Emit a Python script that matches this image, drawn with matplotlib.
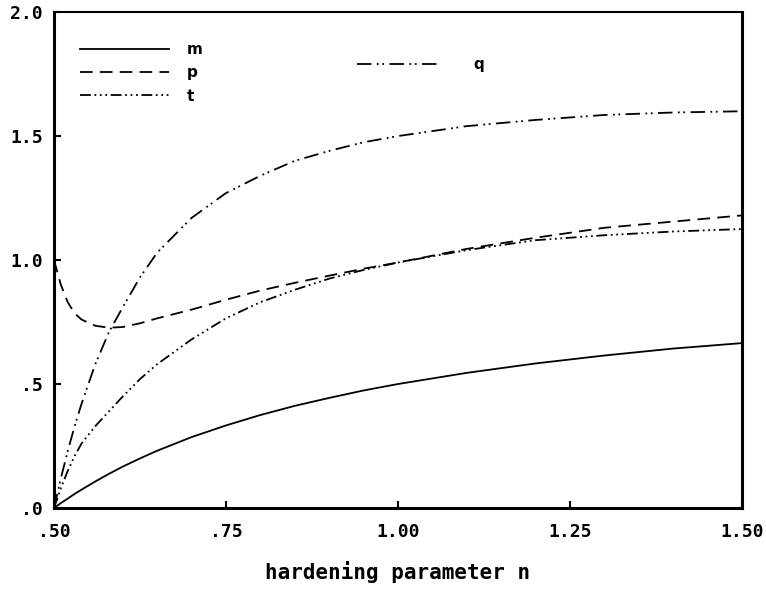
import matplotlib
matplotlib.use("Agg")
import matplotlib.pyplot as plt

# hardening parameter n
n = [0.50, 0.51, 0.52, 0.53, 0.54, 0.56, 0.58, 0.60, 0.625, 0.65, 0.70, 0.75,
     0.80, 0.85, 0.90, 0.95, 1.00, 1.10, 1.20, 1.30, 1.40, 1.50]

m = [0.000, 0.020, 0.038, 0.057, 0.074, 0.107, 0.138, 0.167, 0.200, 0.231, 0.286, 0.333,
     0.375, 0.412, 0.444, 0.474, 0.500, 0.545, 0.583, 0.615, 0.643, 0.665]
p = [1.000, 0.900, 0.830, 0.785, 0.760, 0.735, 0.727, 0.730, 0.745, 0.765, 0.800, 0.840,
     0.877, 0.908, 0.937, 0.965, 0.990, 1.045, 1.090, 1.130, 1.155, 1.180]
t = [0.000, 0.080, 0.150, 0.210, 0.260, 0.330, 0.390, 0.450, 0.520, 0.580, 0.680, 0.765,
     0.830, 0.880, 0.925, 0.960, 0.990, 1.040, 1.080, 1.100, 1.115, 1.125]
q = [0.000, 0.120, 0.230, 0.330, 0.420, 0.580, 0.710, 0.810, 0.930, 1.030, 1.170, 1.270,
     1.340, 1.400, 1.440, 1.475, 1.500, 1.540, 1.565, 1.585, 1.595, 1.600]

xticks = [0.50, 0.75, 1.00, 1.25, 1.50]
xtick_labels = [".50", ".75", "1.00", "1.25", "1.50"]
yticks = [0.0, 0.5, 1.0, 1.5, 2.0]
ytick_labels = [".0", ".5", "1.0", "1.5", "2.0"]

mono = "DejaVu Sans Mono"

fig = plt.figure(figsize=(7.66, 5.89), dpi=100)
ax = fig.add_axes([0.0705, 0.1375, 0.898, 0.842])

lw = 1.3
lm, = ax.plot(n, m, color="black", lw=lw, linestyle="-")
lp, = ax.plot(n, p, color="black", lw=lw, linestyle=(0, (7, 4)))
lt, = ax.plot(n, t, color="black", lw=lw, linestyle=(0, (6, 2, 1, 2, 1, 2, 1, 2)))
lq, = ax.plot(n, q, color="black", lw=lw, linestyle=(0, (8, 3, 1, 2, 1, 3)))

ax.set_xlim(0.5, 1.5)
ax.set_ylim(0.0, 2.0)
ax.set_xticks(xticks)
ax.set_xticklabels(xtick_labels)
ax.set_yticks(yticks)
ax.set_yticklabels(ytick_labels)
ax.tick_params(direction="in", length=5, width=1.5, labelsize=13)
ax.tick_params(axis="x", pad=11)
ax.tick_params(axis="y", pad=8)
for lab in ax.get_xticklabels() + ax.get_yticklabels():
    lab.set_fontweight("bold")
    lab.set_family(mono)

for side in ["left", "right", "bottom"]:
    ax.spines[side].set_linewidth(2.2)
ax.spines["top"].set_linewidth(1.5)

ax.set_xlabel("hardening parameter n", fontsize=15, fontweight="bold",
              family=mono, labelpad=14)

leg1 = ax.legend([lm, lp, lt], ["m", "p", "t"], loc="upper left",
                 bbox_to_anchor=(0.027, 0.955), frameon=False, handlelength=5.8,
                 handletextpad=1.2, labelspacing=0.55, borderpad=0,
                 prop={"weight": "bold", "size": 11})
ax.add_artist(leg1)
ax.legend([lq], ["q"], loc="upper left", bbox_to_anchor=(0.43, 0.925),
          frameon=False, handlelength=5.4, handletextpad=2.2, borderpad=0,
          prop={"weight": "bold", "size": 11})

fig.savefig("out.png", dpi=100)
